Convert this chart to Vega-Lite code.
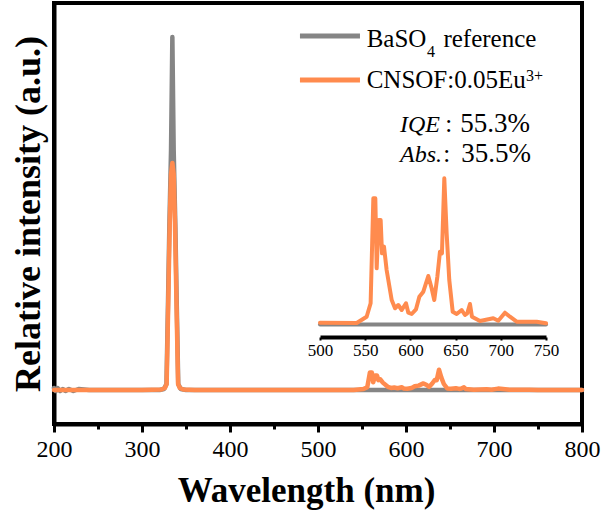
{
  "$schema": "https://vega.github.io/schema/vega-lite/v6.json",
  "width": 528,
  "height": 421,
  "autosize": {"type": "none"},
  "padding": {"left": 54, "top": 3, "right": 20, "bottom": 94},
  "background": "white",
  "config": {
    "view": {"stroke": "black", "strokeWidth": 4},
    "font": "Liberation Serif",
    "style": {"guide-label": {"font": "Liberation Serif", "fill": "black"}, "guide-title": {"font": "Liberation Serif", "fill": "black"}},
    "axis": {"grid": false, "labelFont": "Liberation Serif", "titleFont": "Liberation Serif", "labelColor": "black", "titleColor": "black", "domainColor": "black", "tickColor": "black"}
  },
  "datasets": {
    "main": [
      {"s": "BaSO4", "wl": 200, "v": 36}, {"s": "BaSO4", "wl": 202, "v": 33}, {"s": "BaSO4", "wl": 204, "v": 36}, {"s": "BaSO4", "wl": 207, "v": 33}, {"s": "BaSO4", "wl": 210, "v": 35}, {"s": "BaSO4", "wl": 213, "v": 33}, {"s": "BaSO4", "wl": 217, "v": 35}, {"s": "BaSO4", "wl": 222, "v": 33}, {"s": "BaSO4", "wl": 228, "v": 35}, {"s": "BaSO4", "wl": 240, "v": 34}, {"s": "BaSO4", "wl": 280, "v": 34}, {"s": "BaSO4", "wl": 320, "v": 34}, {"s": "BaSO4", "wl": 325, "v": 35}, {"s": "BaSO4", "wl": 327.8, "v": 40}, {"s": "BaSO4", "wl": 329.6, "v": 124}, {"s": "BaSO4", "wl": 331.1, "v": 199}, {"s": "BaSO4", "wl": 333, "v": 274}, {"s": "BaSO4", "wl": 334.5, "v": 387}, {"s": "BaSO4", "wl": 336, "v": 274}, {"s": "BaSO4", "wl": 337.9, "v": 199}, {"s": "BaSO4", "wl": 339.4, "v": 124}, {"s": "BaSO4", "wl": 341.2, "v": 40}, {"s": "BaSO4", "wl": 344, "v": 35}, {"s": "BaSO4", "wl": 350, "v": 34}, {"s": "BaSO4", "wl": 400, "v": 34}, {"s": "BaSO4", "wl": 500, "v": 34}, {"s": "BaSO4", "wl": 560, "v": 34}, {"s": "BaSO4", "wl": 600, "v": 34}, {"s": "BaSO4", "wl": 650, "v": 34}, {"s": "BaSO4", "wl": 700, "v": 34}, {"s": "BaSO4", "wl": 800, "v": 34},
      {"s": "CNSOF", "wl": 200, "v": 34}, {"s": "CNSOF", "wl": 250, "v": 34}, {"s": "CNSOF", "wl": 300, "v": 34}, {"s": "CNSOF", "wl": 322, "v": 34.5}, {"s": "CNSOF", "wl": 326, "v": 36}, {"s": "CNSOF", "wl": 328, "v": 40}, {"s": "CNSOF", "wl": 329.8, "v": 120}, {"s": "CNSOF", "wl": 331.5, "v": 200}, {"s": "CNSOF", "wl": 333, "v": 250}, {"s": "CNSOF", "wl": 334.5, "v": 261}, {"s": "CNSOF", "wl": 336, "v": 250}, {"s": "CNSOF", "wl": 337.5, "v": 200}, {"s": "CNSOF", "wl": 339.2, "v": 120}, {"s": "CNSOF", "wl": 341, "v": 40}, {"s": "CNSOF", "wl": 343, "v": 36}, {"s": "CNSOF", "wl": 347, "v": 34.5}, {"s": "CNSOF", "wl": 360, "v": 34}, {"s": "CNSOF", "wl": 400, "v": 34}, {"s": "CNSOF", "wl": 450, "v": 34}, {"s": "CNSOF", "wl": 500, "v": 34},
      {"s": "CNSOF", "wl": 540.6, "v": 34}, {"s": "CNSOF", "wl": 551.6, "v": 34.9}, {"s": "CNSOF", "wl": 556, "v": 36.8}, {"s": "CNSOF", "wl": 559, "v": 51.5}, {"s": "CNSOF", "wl": 561.2, "v": 51.5}, {"s": "CNSOF", "wl": 562.7, "v": 41.7}, {"s": "CNSOF", "wl": 564.9, "v": 48.4}, {"s": "CNSOF", "wl": 567.1, "v": 48.4}, {"s": "CNSOF", "wl": 568.6, "v": 43.8}, {"s": "CNSOF", "wl": 570.8, "v": 44.7}, {"s": "CNSOF", "wl": 573.7, "v": 41.4}, {"s": "CNSOF", "wl": 579.3, "v": 37.2}, {"s": "CNSOF", "wl": 583, "v": 36.1}, {"s": "CNSOF", "wl": 586.6, "v": 36.5}, {"s": "CNSOF", "wl": 590.4, "v": 35.8}, {"s": "CNSOF", "wl": 595.1, "v": 36.8}, {"s": "CNSOF", "wl": 597.7, "v": 35.4}, {"s": "CNSOF", "wl": 601.4, "v": 35.3}, {"s": "CNSOF", "wl": 606.2, "v": 35.9}, {"s": "CNSOF", "wl": 609.9, "v": 37.7}, {"s": "CNSOF", "wl": 614.3, "v": 38.4}, {"s": "CNSOF", "wl": 619.8, "v": 40.6}, {"s": "CNSOF", "wl": 623.5, "v": 38.9}, {"s": "CNSOF", "wl": 626.4, "v": 37.2}, {"s": "CNSOF", "wl": 629.8, "v": 40.5}, {"s": "CNSOF", "wl": 632.7, "v": 44}, {"s": "CNSOF", "wl": 634.9, "v": 43.8}, {"s": "CNSOF", "wl": 637.5, "v": 54.3}, {"s": "CNSOF", "wl": 640.1, "v": 46.6}, {"s": "CNSOF", "wl": 643, "v": 40}, {"s": "CNSOF", "wl": 646.8, "v": 35.6}, {"s": "CNSOF", "wl": 651.2, "v": 35.3}, {"s": "CNSOF", "wl": 656.7, "v": 35.8}, {"s": "CNSOF", "wl": 660.4, "v": 35.1}, {"s": "CNSOF", "wl": 662.9, "v": 35.4}, {"s": "CNSOF", "wl": 665.9, "v": 36.7}, {"s": "CNSOF", "wl": 668.1, "v": 34.9}, {"s": "CNSOF", "wl": 677, "v": 34.3}, {"s": "CNSOF", "wl": 691.7, "v": 34.7}, {"s": "CNSOF", "wl": 697.2, "v": 34.3}, {"s": "CNSOF", "wl": 704.6, "v": 35.4}, {"s": "CNSOF", "wl": 710.1, "v": 34.9}, {"s": "CNSOF", "wl": 717.6, "v": 34.2}, {"s": "CNSOF", "wl": 739.7, "v": 34.2}, {"s": "CNSOF", "wl": 750, "v": 34}, {"s": "CNSOF", "wl": 800, "v": 34}
    ],
    "inset": [
      {"s": "BaSO4", "wl": 500, "v": 12.5}, {"s": "BaSO4", "wl": 600, "v": 12.5}, {"s": "BaSO4", "wl": 700, "v": 12.5}, {"s": "BaSO4", "wl": 750, "v": 12.5},
      {"s": "CNSOF", "wl": 500, "v": 14.3}, {"s": "CNSOF", "wl": 540.6, "v": 14}, {"s": "CNSOF", "wl": 551.6, "v": 20.3}, {"s": "CNSOF", "wl": 556, "v": 33.7}, {"s": "CNSOF", "wl": 559, "v": 138.7}, {"s": "CNSOF", "wl": 561.2, "v": 138.7}, {"s": "CNSOF", "wl": 562.7, "v": 68.7}, {"s": "CNSOF", "wl": 564.9, "v": 117}, {"s": "CNSOF", "wl": 567.1, "v": 117}, {"s": "CNSOF", "wl": 568.6, "v": 83.7}, {"s": "CNSOF", "wl": 570.8, "v": 90.3}, {"s": "CNSOF", "wl": 573.7, "v": 67}, {"s": "CNSOF", "wl": 579.3, "v": 37}, {"s": "CNSOF", "wl": 583, "v": 28.7}, {"s": "CNSOF", "wl": 586.6, "v": 32}, {"s": "CNSOF", "wl": 590.4, "v": 27}, {"s": "CNSOF", "wl": 595.1, "v": 33.7}, {"s": "CNSOF", "wl": 597.7, "v": 24.3}, {"s": "CNSOF", "wl": 601.4, "v": 23}, {"s": "CNSOF", "wl": 606.2, "v": 27.7}, {"s": "CNSOF", "wl": 609.9, "v": 40.3}, {"s": "CNSOF", "wl": 614.3, "v": 45.3}, {"s": "CNSOF", "wl": 619.8, "v": 61}, {"s": "CNSOF", "wl": 623.5, "v": 48.7}, {"s": "CNSOF", "wl": 626.4, "v": 37}, {"s": "CNSOF", "wl": 629.8, "v": 60.3}, {"s": "CNSOF", "wl": 632.7, "v": 85.3}, {"s": "CNSOF", "wl": 634.9, "v": 83.7}, {"s": "CNSOF", "wl": 637.5, "v": 158.7}, {"s": "CNSOF", "wl": 640.1, "v": 103.7}, {"s": "CNSOF", "wl": 643, "v": 57}, {"s": "CNSOF", "wl": 646.8, "v": 25.3}, {"s": "CNSOF", "wl": 651.2, "v": 23}, {"s": "CNSOF", "wl": 656.7, "v": 27}, {"s": "CNSOF", "wl": 660.4, "v": 22}, {"s": "CNSOF", "wl": 662.9, "v": 23.7}, {"s": "CNSOF", "wl": 665.9, "v": 33}, {"s": "CNSOF", "wl": 668.1, "v": 20.3}, {"s": "CNSOF", "wl": 677, "v": 16}, {"s": "CNSOF", "wl": 691.7, "v": 18.7}, {"s": "CNSOF", "wl": 697.2, "v": 16.3}, {"s": "CNSOF", "wl": 704.6, "v": 24.3}, {"s": "CNSOF", "wl": 710.1, "v": 20.3}, {"s": "CNSOF", "wl": 717.6, "v": 15.3}, {"s": "CNSOF", "wl": 739.7, "v": 15.3}, {"s": "CNSOF", "wl": 750, "v": 13.7}
    ],
    "legendLines": [
      {"s": "BaSO4", "wl": 479.5, "wl2": 547.7, "v": 388},
      {"s": "CNSOF", "wl": 479.5, "wl2": 547.7, "v": 344}
    ],
    "txtRegular": [
      {"t": "BaSO", "wl": 555.3, "v": 377.3},
      {"t": "reference", "wl": 642.5, "v": 377.3},
      {"t": "CNSOF:0.05Eu", "wl": 555.3, "v": 335.7},
      {"t": ":", "wl": 644.5, "v": 292.3},
      {"t": ":", "wl": 642.3, "v": 262.3}
    ],
    "txtNum": [
      {"t": "55.3%", "wl": 740.9, "v": 292.3},
      {"t": "35.5%", "wl": 742, "v": 262.3}
    ],
    "txtItalic": [
      {"t": "IQE", "wl": 593.2, "v": 292.3},
      {"t": "Abs.", "wl": 593.2, "v": 262.3}
    ],
    "txtSmall": [
      {"t": "4", "wl": 623.9, "v": 367.3},
      {"t": "3+", "wl": 736.4, "v": 343}
    ]
  },
  "layer": [
    {
      "layer": [
        {
          "data": {"name": "main"},
          "mark": {"type": "line", "strokeWidth": 4.5, "strokeJoin": "round", "strokeCap": "round"},
          "encoding": {
            "x": {"field": "wl", "type": "quantitative", "scale": {"domain": [200, 800], "nice": false, "zero": false},
              "axis": {"title": "Wavelength (nm)", "titleFont": "Liberation Serif", "titleFontSize": 35, "titleFontWeight": "bold", "titlePadding": 12, "titleX": 252,
                "values": [200, 250, 300, 350, 400, 450, 500, 550, 600, 650, 700, 750, 800],
                "labelExpr": "datum.value % 100 === 0 ? datum.label : ''",
                "labelFont": "Liberation Serif", "labelFontSize": 24, "labelPadding": 5, "labelFlush": false, "labelOverlap": false,
                "domainWidth": 4, "tickWidth": 3,
                "tickSize": {"condition": {"test": "datum.value % 100 === 0", "value": 8}, "value": 5}}},
            "y": {"field": "v", "type": "quantitative", "scale": {"domain": [0, 421], "nice": false, "zero": false},
              "axis": {"title": "Relative intensity (a.u.)", "titleFont": "Liberation Serif", "titleFontSize": 36, "titleFontWeight": "bold", "titlePadding": 7, "labels": false, "ticks": false, "domainWidth": 4}},
            "color": {"field": "s", "type": "nominal", "scale": {"domain": ["BaSO4", "CNSOF"], "range": ["#858585", "#ff8b4e"]}, "legend": null}
          }
        },
        {
          "mark": {"type": "rule", "color": "#e3141c", "strokeWidth": 2.5, "strokeDash": [3, 3]},
          "encoding": {
            "x": {"datum": 500, "type": "quantitative", "scale": {"domain": [200, 800], "nice": false, "zero": false}},
            "y": {"datum": 0, "type": "quantitative", "scale": {"domain": [0, 421], "nice": false, "zero": false}},
            "y2": {"datum": 246}
          }
        },
        {
          "data": {"name": "legendLines"},
          "mark": {"type": "rule", "strokeWidth": 5},
          "encoding": {
            "x": {"field": "wl", "type": "quantitative", "scale": {"domain": [200, 800], "nice": false, "zero": false}},
            "x2": {"field": "wl2"},
            "y": {"field": "v", "type": "quantitative", "scale": {"domain": [0, 421], "nice": false, "zero": false}},
            "color": {"field": "s", "type": "nominal", "scale": {"domain": ["BaSO4", "CNSOF"], "range": ["#858585", "#ff8b4e"]}, "legend": null}
          }
        },
        {
          "data": {"name": "txtRegular"},
          "mark": {"type": "text", "fontSize": 25, "font": "Liberation Serif", "align": "left", "baseline": "alphabetic", "color": "black"},
          "encoding": {
            "x": {"field": "wl", "type": "quantitative", "scale": {"domain": [200, 800], "nice": false, "zero": false}},
            "y": {"field": "v", "type": "quantitative", "scale": {"domain": [0, 421], "nice": false, "zero": false}},
            "text": {"field": "t"}
          }
        },
        {
          "data": {"name": "txtNum"},
          "mark": {"type": "text", "fontSize": 27, "font": "Liberation Serif", "align": "right", "baseline": "alphabetic", "color": "black"},
          "encoding": {
            "x": {"field": "wl", "type": "quantitative", "scale": {"domain": [200, 800], "nice": false, "zero": false}},
            "y": {"field": "v", "type": "quantitative", "scale": {"domain": [0, 421], "nice": false, "zero": false}},
            "text": {"field": "t"}
          }
        },
        {
          "data": {"name": "txtItalic"},
          "mark": {"type": "text", "fontSize": 24, "font": "Liberation Serif", "fontStyle": "italic", "align": "left", "baseline": "alphabetic", "color": "black"},
          "encoding": {
            "x": {"field": "wl", "type": "quantitative", "scale": {"domain": [200, 800], "nice": false, "zero": false}},
            "y": {"field": "v", "type": "quantitative", "scale": {"domain": [0, 421], "nice": false, "zero": false}},
            "text": {"field": "t"}
          }
        },
        {
          "data": {"name": "txtSmall"},
          "mark": {"type": "text", "fontSize": 16, "font": "Liberation Serif", "align": "left", "baseline": "alphabetic", "color": "black"},
          "encoding": {
            "x": {"field": "wl", "type": "quantitative", "scale": {"domain": [200, 800], "nice": false, "zero": false}},
            "y": {"field": "v", "type": "quantitative", "scale": {"domain": [0, 421], "nice": false, "zero": false}},
            "text": {"field": "t"}
          }
        }
      ]
    },
    {
      "layer": [
        {
          "data": {"name": "inset"},
          "mark": {"type": "line", "strokeWidth": 4, "strokeJoin": "round", "strokeCap": "round"},
          "encoding": {
            "x": {"field": "wl", "type": "quantitative", "scale": {"domain": [500, 750], "range": [266, 492], "nice": false, "zero": false},
              "axis": {"orient": "bottom", "offset": -87, "title": null, "values": [500, 550, 600, 650, 700, 750], "labelFont": "Liberation Serif", "labelFontSize": 17, "labelPadding": 2, "labelFlush": false, "labelOverlap": false, "domainWidth": 4, "tickWidth": 2, "tickSize": 3}},
            "y": {"field": "v", "type": "quantitative", "scale": {"domain": [0, 160], "range": [334, 174], "nice": false, "zero": false}, "axis": null},
            "color": {"field": "s", "type": "nominal", "scale": {"domain": ["BaSO4", "CNSOF"], "range": ["#858585", "#ff8b4e"]}, "legend": null}
          }
        }
      ]
    }
  ],
  "resolve": {"scale": {"x": "independent", "y": "independent"}, "axis": {"x": "independent", "y": "independent"}}
}
